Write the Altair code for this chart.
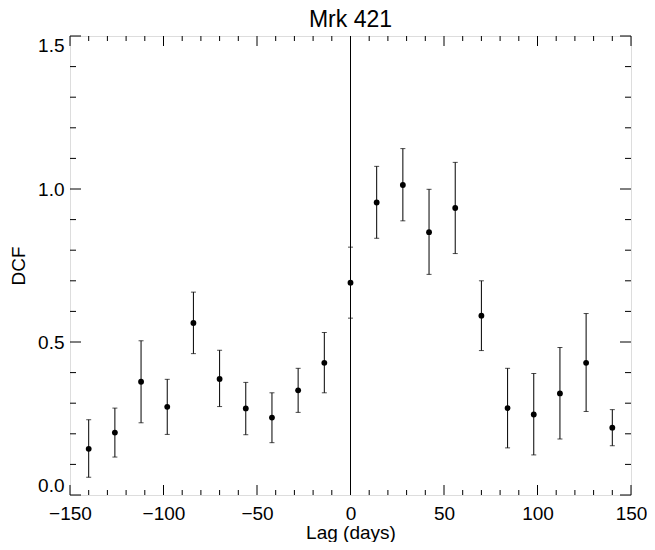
import altair as alt
import pandas as pd

# ---- data ----
lags = [-140, -126, -112, -98, -84, -70, -56, -42, -28, -14, 0,
        14, 28, 42, 56, 70, 84, 98, 112, 126, 140]
dcf = [0.151, 0.204, 0.370, 0.288, 0.562, 0.379, 0.283, 0.253, 0.342, 0.432, 0.694,
       0.956, 1.013, 0.859, 0.938, 0.586, 0.284, 0.263, 0.332, 0.432, 0.220]
dcf_hi = [0.246, 0.284, 0.504, 0.378, 0.663, 0.473, 0.368, 0.334, 0.414, 0.531, 0.810,
          1.074, 1.132, 0.999, 1.087, 0.700, 0.414, 0.397, 0.482, 0.593, 0.279]
dcf_lo = [0.058, 0.124, 0.236, 0.198, 0.462, 0.289, 0.197, 0.171, 0.270, 0.334, 0.578,
          0.839, 0.896, 0.721, 0.789, 0.472, 0.154, 0.131, 0.183, 0.273, 0.161]

x_major = [-150, -100, -50, 0, 50, 100, 150]
x_minor = [-140, -130, -120, -110, -90, -80, -70, -60, -40, -30, -20, -10,
           10, 20, 30, 40, 60, 70, 80, 90, 110, 120, 130, 140]
y_major = [0.0, 0.5, 1.0, 1.5]
y_minor = [0.1, 0.2, 0.3, 0.4, 0.6, 0.7, 0.8, 0.9, 1.1, 1.2, 1.3, 1.4]
zero_lag = [0]

title_text = ["Mrk 421"]
x_title = "Lag (days)"
y_title = "DCF"

W, H = 561, 459
PAD_L, PAD_T = 62, 28
FONT = "Liberation Sans"

df = pd.DataFrame({"lag": lags, "dcf": dcf, "hi": dcf_hi, "lo": dcf_lo})

xs = alt.Scale(domain=[-150, 150], nice=False, zero=False)
ys = alt.Scale(domain=[0, 1.5], nice=False, zero=False)

x_axis = alt.Axis(values=x_major, format="d", ticks=False, domain=False, grid=False,
                  labelFlush=False, labelPadding=9, labelFontSize=19, labelFont=FONT,
                  labelColor="black", labelOverlap=False,
                  title=x_title, titleFontSize=19, titleFont=FONT, titleFontWeight="normal",
                  titleColor="black", titleBaseline="alphabetic", titleY=43)
y_axis = alt.Axis(values=y_major, format=".1f", ticks=False, domain=False, grid=False,
                  labelFlush=True, labelPadding=6, labelFontSize=19, labelFont=FONT,
                  labelColor="black", labelOverlap=False,
                  title=y_title, titleFontSize=19, titleFont=FONT, titleFontWeight="normal",
                  titleColor="black", titleBaseline="alphabetic", titleX=-46,
                  titleY=H / 2, titleAlign="center")

base = alt.Chart(df)

bars = base.mark_rule(color="black", strokeWidth=1).encode(
    x=alt.X("lag:Q", scale=xs, axis=x_axis),
    y=alt.Y("lo:Q", scale=ys, axis=y_axis),
    y2="hi:Q",
)
cap_hi = base.mark_tick(orient="horizontal", color="black", size=5, thickness=1).encode(
    x=alt.X("lag:Q", scale=xs), y=alt.Y("hi:Q", scale=ys))
cap_lo = base.mark_tick(orient="horizontal", color="black", size=5, thickness=1).encode(
    x=alt.X("lag:Q", scale=xs), y=alt.Y("lo:Q", scale=ys))
pts = base.mark_circle(color="black", opacity=1, size=34).encode(
    x=alt.X("lag:Q", scale=xs), y=alt.Y("dcf:Q", scale=ys))

zero_rule = alt.Chart(pd.DataFrame({"z": zero_lag})).mark_rule(
    color="black", strokeWidth=1).encode(x=alt.X("z:Q", scale=xs))

title_mark = alt.Chart(pd.DataFrame({"t": title_text})).mark_text(
    font=FONT, fontSize=23, color="black", align="center", baseline="alphabetic"
).encode(text="t:N", x=alt.value(W / 2), y=alt.value(-9))


def xticks(vals, length):
    d = alt.Chart(pd.DataFrame({"v": vals}))
    bottom = d.mark_rule(color="black", strokeWidth=1).encode(
        x=alt.X("v:Q", scale=xs), y=alt.value(H), y2=alt.value(H - length))
    top = d.mark_rule(color="black", strokeWidth=1).encode(
        x=alt.X("v:Q", scale=xs), y=alt.value(0), y2=alt.value(length))
    return [bottom, top]


def yticks(vals, length):
    d = alt.Chart(pd.DataFrame({"v": vals}))
    left = d.mark_rule(color="black", strokeWidth=1).encode(
        y=alt.Y("v:Q", scale=ys), x=alt.value(0), x2=alt.value(length))
    right = d.mark_rule(color="black", strokeWidth=1).encode(
        y=alt.Y("v:Q", scale=ys), x=alt.value(W), x2=alt.value(W - length))
    return [left, right]


layers = [bars, cap_hi, cap_lo, pts, zero_rule, title_mark]
layers += xticks(x_major, 10) + xticks(x_minor, 5)
layers += yticks(y_major, 11) + yticks(y_minor, 6)

chart = alt.layer(*layers).properties(
    width=W, height=H,
    padding={"left": PAD_L, "top": PAD_T, "right": 639 - PAD_L - W, "bottom": 534 - PAD_T - H},
    autosize=alt.AutoSizeParams(type="none"),
).configure_view(stroke="black", strokeWidth=1).configure(background="white")

chart.save("out.html", embed_options={"renderer": "svg", "actions": False})
